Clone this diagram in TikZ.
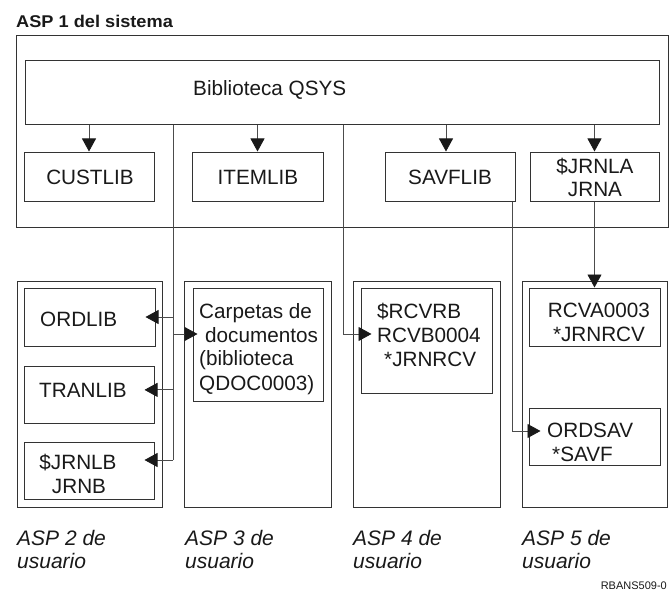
\documentclass[tikz,border=0pt]{standalone}
\usepackage{fontspec}
\setmainfont{Liberation Sans}
\newfontfamily\titlefam{Liberation Sans}[FakeStretch=1.07]
\usetikzlibrary{arrows.meta,fit}
\begin{document}
\begin{tikzpicture}[x=1pt,y=-1pt,
  box/.style={draw=black!80, line width=1pt, inner sep=0pt},
  wire/.style={draw=black!70, line width=0.9pt},
  conn/.style={wire, -{Triangle[length=13pt,width=14pt,color=black!90]}},
  lbl/.style={inner sep=0pt, text=black!90, font=\fontsize{20.7}{24}\selectfont},
  asp/.style={inner sep=0pt, text=black!90, anchor=base west, font=\fontsize{21}{24}\selectfont\itshape},
]
\useasboundingbox (0,0) rectangle (669,591);

% title
\node[anchor=base west, inner sep=0pt, text=black!90, font=\titlefam\bfseries\fontsize{17}{20}\selectfont] (title) at (16,28) {ASP 1 del sistema};

% ASP 1
\node[box, fit={(16,36) (668,227)}] (asp1) {};
\node[box, fit={(25,61) (659,125)}] (qsys) {};
\node[lbl, anchor=base west] (qsyst) at (193,96) {Biblioteca QSYS};

\node[box, fit={(24,152) (154,201)}] (custlib) {};
\node[lbl, anchor=base] (custlibt) at (90,184) {CUSTLIB};
\node[box, fit={(192,152) (323,201)}] (itemlib) {};
\node[lbl, anchor=base] (itemlibt) at (258,184) {ITEMLIB};
\node[box, fit={(385,152) (515,201)}] (savflib) {};
\node[lbl, anchor=base] (savflibt) at (450,184) {SAVFLIB};
\node[box, fit={(530,152) (659,201)}] (jrnla) {};
\node[lbl, anchor=base] (jrnlat1) at (595,173) {\$JRNLA};
\node[lbl, anchor=base] (jrnlat2) at (595,196) {JRNA};

% user ASPs
\node[box, fit={(17,281) (162,507)}] (asp2) {};
\node[box, fit={(184,281) (331,507)}] (asp3) {};
\node[box, fit={(353,281) (500,507)}] (asp4) {};
\node[box, fit={(522,281) (667,507)}] (asp5) {};

\node[box, fit={(24,288) (155,346)}] (ordlib) {};
\node[lbl, anchor=base west] (ordlibt) at (40,326) {ORDLIB};
\node[box, fit={(24,366) (154,423)}] (tranlib) {};
\node[lbl, anchor=base west] (tranlibt) at (39,397) {TRANLIB};
\node[box, fit={(24,442) (154,499)}] (jrnlb) {};
\node[lbl, anchor=base] (jrnlbt1) at (78,469) {\$JRNLB};
\node[lbl, anchor=base] (jrnlbt2) at (79,493) {JRNB};

\node[box, fit={(193,288) (323,401)}] (carp) {};
\node[lbl, anchor=base west] (carpt1) at (199,318) {Carpetas de};
\node[lbl, anchor=base west] (carpt2) at (205,342) {documentos};
\node[lbl, anchor=base west] (carpt3) at (199,365) {(biblioteca};
\node[lbl, anchor=base west] (carpt4) at (199,390) {QDOC0003)};

\node[box, fit={(361,288) (492,393)}] (rcvrb) {};
\node[lbl, anchor=base west] (rcvrbt1) at (377,318) {\$RCVRB};
\node[lbl, anchor=base west] (rcvrbt2) at (377,342) {RCVB0004};
\node[lbl, anchor=base west] (rcvrbt3) at (384,366) {*JRNRCV};

\node[box, fit={(529,288) (660,346)}] (rcva) {};
\node[lbl, anchor=base] (rcvat1) at (599,317) {RCVA0003};
\node[lbl, anchor=base] (rcvat2) at (599,341) {*JRNRCV};

\node[box, fit={(529,408) (660,465)}] (ordsav) {};
\node[lbl, anchor=base west] (ordsavt1) at (547,437) {ORDSAV};
\node[lbl, anchor=base west] (ordsavt2) at (552,461) {*SAVF};

% ASP labels
\node[asp] (l2a) at (17,545) {ASP 2 de};
\node[asp] (l2b) at (17,568) {usuario};
\node[asp] (l3a) at (185,545) {ASP 3 de};
\node[asp] (l3b) at (185,568) {usuario};
\node[asp] (l4a) at (353,545) {ASP 4 de};
\node[asp] (l4b) at (353,568) {usuario};
\node[asp] (l5a) at (522,545) {ASP 5 de};
\node[asp] (l5b) at (522,568) {usuario};

\node[anchor=base east, inner sep=0pt, text=black!90, font=\fontsize{11}{13}\selectfont] (ref) at (667,589) {RBANS509-0};

% connectors
\coordinate (aS) at (446,0);
\coordinate (tA) at (173,460);
\coordinate (tC) at (173,334);
\coordinate (tB) at (343,334);
\coordinate (tS) at (512,431);

\draw[conn] (qsys.south -| custlib.north) -- (custlib.north);
\draw[conn] (qsys.south -| itemlib.north) -- (itemlib.north);
\draw[conn] (qsys.south -| aS) -- (savflib.north -| aS);
\draw[conn] (qsys.south -| jrnla.north) -- (jrnla.north);

\draw[wire] (qsys.south -| tA) -- (tA);
\draw[conn, shorten >=-10pt] (tA |- ordlib.east) -- (ordlib.east);
\draw[conn, shorten >=-10pt] (tA |- tranlibt) -- (tranlib.east |- tranlibt);
\draw[conn, shorten >=-10pt] (tA) -- (tA -| jrnlb.east);
\draw[conn, shorten >=-5pt] (tC) -- (tC -| carp.west);

\draw[conn, shorten >=-11pt] (qsys.south -| tB) -- (tB) -- (tB -| rcvrb.west);
\draw[conn, shorten >=-12pt] (savflib.south -| tS) -- (tS) -- (tS -| ordsav.west);
\draw[conn] (jrnla.south) -- (rcva.north);
\end{tikzpicture}
\end{document}
